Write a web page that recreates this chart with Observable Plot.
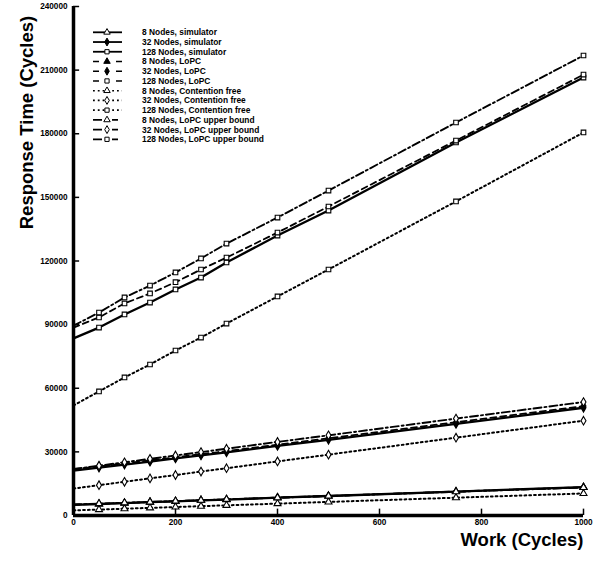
<!DOCTYPE html>
<html><head><meta charset="utf-8">
<script src="https://cdn.jsdelivr.net/npm/d3@7"></script>
<script src="https://cdn.jsdelivr.net/npm/@observablehq/plot@0.6"></script>
<style>
body{margin:0;background:#fff}
#chart{width:595px;height:561px}
svg{overflow:visible}
</style>
</head><body><div id="chart"></div>
<script>
// ---- data ----
const work = [0, 50, 100, 150, 200, 250, 300, 400, 500, 750, 1000];
const xTicks = [0, 200, 400, 600, 800, 1000];
const yTicks = [0, 30000, 60000, 90000, 120000, 150000, 180000, 210000, 240000];
const nodeCounts = [8, 32, 128];
const models = ["simulator", "LoPC", "Contention free", "LoPC upper bound"];

const sim8   = [5000, 5400, 5800, 6300, 6700, 7100, 7500, 8400, 9200, 11300, 13400];
const lopc8  = [5100, 5500, 5900, 6300, 6700, 7200, 7600, 8400, 9200, 11300, 13300];
const cf8    = [2400, 2800, 3200, 3600, 4000, 4400, 4800, 5600, 6400, 8400, 10400];
const ub8    = [5200, 5600, 6000, 6400, 6800, 7200, 7600, 8400, 9200, 11200, 13200];

const sim32  = [21200, 22600, 24000, 25400, 26900, 28300, 29800, 32800, 35700, 43200, 50800];
const lopc32 = [21800, 23200, 24600, 26000, 27400, 28900, 30400, 33400, 36400, 44000, 51600];
const cf32   = [12700, 14300, 15900, 17500, 19100, 20700, 22300, 25500, 28700, 36700, 44700];
const ub32   = [21900, 23500, 25100, 26700, 28300, 29900, 31500, 34700, 37800, 45700, 53500];

const sim128  = [83500, 88600, 94800, 100400, 106600, 112200, 119300, 132000, 143800, 175900, 206500];
const lopc128 = [88600, 93400, 100000, 104700, 110000, 116000, 121600, 133400, 145700, 176800, 207900];
const cf128   = [51900, 58500, 65100, 71200, 77800, 83900, 90500, 103300, 116000, 148100, 180600];
const ub128   = [89500, 95700, 102800, 108400, 114600, 121200, 128200, 140500, 153200, 185300, 216900];

// ---- table ----
const seriesList = [
  [8, "simulator", sim8], [32, "simulator", sim32], [128, "simulator", sim128],
  [8, "LoPC", lopc8], [32, "LoPC", lopc32], [128, "LoPC", lopc128],
  [8, "Contention free", cf8], [32, "Contention free", cf32], [128, "Contention free", cf128],
  [8, "LoPC upper bound", ub8], [32, "LoPC upper bound", ub32], [128, "LoPC upper bound", ub128]
];
const rows = seriesList.flatMap(([n, m, vals]) =>
  vals.map((v, i) => ({nodes: n, model: m, series: `${n} Nodes, ${m}`, w: work[i], v})));

const lineStyle = {
  "simulator": {strokeWidth: 2.3, dash: null},
  "LoPC": {strokeWidth: 1.8, dash: "6,4"},
  "Contention free": {strokeWidth: 2, dash: "1.8,3"},
  "LoPC upper bound": {strokeWidth: 1.9, dash: "8,3,2,3"}
};
const symbolOf = n => n === 8 ? "triangle" : n === 32 ? "diamond" : "square";
const fillOf = d => (d.nodes === 32 && (d.model === "simulator" || d.model === "LoPC")) || (d.nodes === 8 && d.model === "LoPC") ? "black" : "white";

const font = "'Liberation Sans', Arial, Helvetica, sans-serif";

const marks = [];
for (const m of models) {
  const s = lineStyle[m];
  marks.push(Plot.line(rows.filter(d => d.model === m), {
    x: "w", y: "v", z: "series", stroke: "black",
    strokeWidth: s.strokeWidth, strokeDasharray: s.dash
  }));
}
marks.push(Plot.dot(rows.filter(d => d.w > 0), {
  x: "w", y: "v", symbol: d => symbolOf(d.nodes), fill: fillOf,
  stroke: "black", strokeWidth: 1.1, r: 2.6
}));
// inward ticks
marks.push(Plot.ruleY(yTicks, {y: d => d, x1: 0, x2: 12, stroke: "black", strokeWidth: 1.5}));
marks.push(Plot.ruleX(xTicks.slice(1), {x: d => d, y1: 0, y2: 3000, stroke: "black", strokeWidth: 1.5}));
// axis lines
marks.push(Plot.ruleX([0], {stroke: "black", strokeWidth: 3.5}));
marks.push(Plot.ruleY([0], {stroke: "black", strokeWidth: 3.5}));
// tick labels
marks.push(Plot.axisY(yTicks, {tickSize: 0, tickPadding: 6, tickFormat: d => String(d), fontSize: 8.2, fontWeight: "bold", label: null}));
marks.push(Plot.axisX(xTicks, {tickSize: 0, tickPadding: 4, tickFormat: d => String(d), fontSize: 8.2, fontWeight: "bold", label: null}));
// axis titles
marks.push(Plot.text(["Work (Cycles)"], {frameAnchor: "bottom-right", dy: 30, textAnchor: "end", fontSize: 18.5, fontWeight: "bold", fill: "black"}));
marks.push(Plot.text(["Response Time (Cycles)"], {frameAnchor: "top-left", dx: -54, dy: 116, rotate: -90, textAnchor: "middle", fontSize: 18.5, fontWeight: "bold", fill: "black"}));

const plot = Plot.plot({
  width: 595, height: 561,
  marginLeft: 73, marginRight: 12, marginTop: 6, marginBottom: 46,
  x: {domain: [0, 1000]},
  y: {domain: [0, 240000]},
  style: {fontFamily: font, fontWeight: "bold", background: "white", color: "black"},
  marks
});
document.getElementById("chart").appendChild(plot);

// ---- legend (inside plot, top-left) ----
const svg = d3.select(plot);
const lg = svg.append("g").attr("font-family", font).attr("font-weight", "bold")
  .attr("font-size", 8.4).attr("text-anchor", "start");
const legendDash = {
  "simulator": null,
  "LoPC": "6,17,6",
  "Contention free": "1.8,3",
  "LoPC upper bound": "9,10,6"
};
const symGen = {8: d3.symbolTriangle, 32: d3.symbolDiamond, 128: d3.symbolSquare};
seriesList.forEach(([n, m], i) => {
  const y = 32.3 + i * 9.73;
  lg.append("line").attr("x1", 93).attr("x2", 122).attr("y1", y).attr("y2", y)
    .attr("stroke", "black").attr("stroke-width", m === "simulator" ? 1.8 : 1.6)
    .attr("stroke-dasharray", legendDash[m]);
  lg.append("path").attr("transform", `translate(107,${y})`)
    .attr("d", d3.symbol(symGen[n], 18)())
    .attr("fill", fillOf({nodes: n, model: m})).attr("stroke", "black").attr("stroke-width", 1);
  lg.append("text").attr("x", 142).attr("y", y + 3).attr("text-anchor", "start").text(`${n} Nodes, ${m}`);
});
</script>
</body></html>
